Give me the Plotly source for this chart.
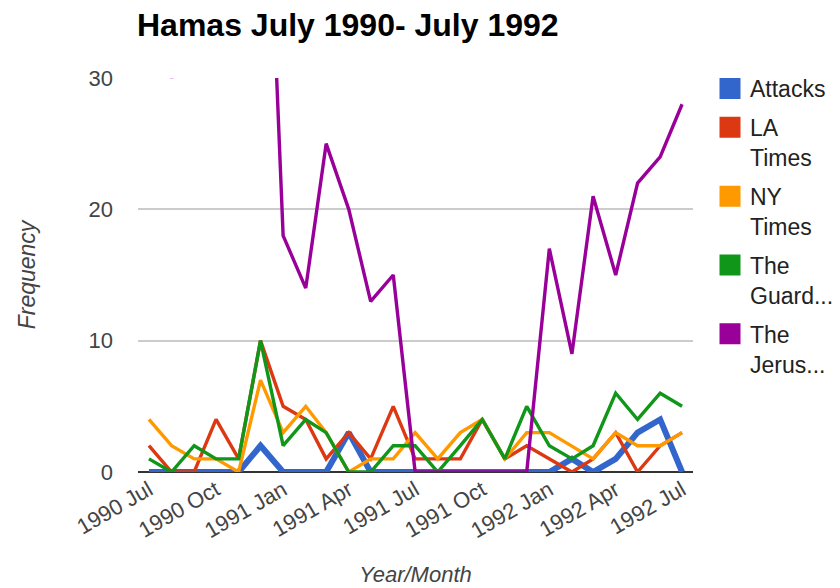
import plotly.graph_objects as go

months = ["1990-07-01", "1990-08-01", "1990-09-01", "1990-10-01", "1990-11-01", "1990-12-01",
          "1991-01-01", "1991-02-01", "1991-03-01", "1991-04-01", "1991-05-01", "1991-06-01",
          "1991-07-01", "1991-08-01", "1991-09-01", "1991-10-01", "1991-11-01", "1991-12-01",
          "1992-01-01", "1992-02-01", "1992-03-01", "1992-04-01", "1992-05-01", "1992-06-01",
          "1992-07-01"]

attacks    = [0, 0, 0, 0, 0, 2, 0, 0, 0, 3, 0, 0, 0, 0, 0, 0, 0, 0, 0, 1, 0, 1, 3, 4, 0]
la_times   = [2, 0, 0, 4, 1, 10, 5, 4, 1, 3, 1, 5, 1, 1, 1, 4, 1, 2, 1, 0, 1, 3, 0, 2, 3]
ny_times   = [4, 2, 1, 1, 0, 7, 3, 5, 3, 0, 1, 1, 3, 1, 3, 4, 1, 3, 3, 2, 1, 3, 2, 2, 3]
guardian   = [1, 0, 2, 1, 1, 10, 2, 4, 3, 0, 0, 2, 2, 0, 2, 4, 1, 5, 2, 1, 2, 6, 4, 6, 5]
jerusalem  = [50, 30, 45, 48, 52, 60, 18, 14, 25, 20, 13, 15, 0, 0, 0, 0, 0, 0, 17, 9, 21, 15, 22, 24, 28]

series_names = ["Attacks", "LA<br>Times", "NY<br>Times", "The<br>Guard...", "The<br>Jerus..."]
series_values = [attacks, la_times, ny_times, guardian, jerusalem]
colors = ["#3366cc", "#dc3912", "#ff9900", "#109618", "#990099"]
widths = [6, 3.4, 3.4, 3.4, 3.4]

FONT = "Liberation Sans, Arial, sans-serif"
W, H = 832, 580  # page body has an 8px margin

fig = go.Figure()
for name, vals, c, w in zip(series_names, series_values, colors, widths):
    fig.add_trace(go.Scatter(x=months, y=vals, mode="lines", name=name,
                             line=dict(color=c, width=w), showlegend=False,
                             hoverinfo="x+y"))
for i, (name, c) in enumerate(zip(series_names, colors)):
    fig.add_trace(go.Scatter(x=[None], y=[None], mode="markers", name=name,
                             legendgroup="g%d" % i,
                             marker=dict(symbol="square", size=16, color=c,
                                         line=dict(color=c, width=5)),
                             showlegend=True))

fig.update_layout(
    width=W, height=H,
    paper_bgcolor="white", plot_bgcolor="white",
    margin=dict(l=130, r=147, t=70, b=116),
    font=dict(family=FONT, size=22, color="#444444"),
    title=dict(text="<b>Hamas July 1990- July 1992</b>", x=129/W, xref="container",
               xanchor="left", y=1-17/H, yref="container", yanchor="middle",
               font=dict(family=FONT, size=32, color="#000000")),
    xaxis=dict(range=["1990-06-16", "1992-07-16"], tickformat="%Y %b", dtick="M3",
               tick0="1990-07-01", tickangle=-30, showgrid=False, zeroline=False,
               showline=False, ticks="", automargin=False,
               tickfont=dict(size=22, color="#444444"),
               title=dict(text="<i>Year/Month</i>", standoff=24,
                          font=dict(size=22, color="#444444"))),
    yaxis=dict(range=[0, 30], tickvals=[0, 10, 20, 30], showgrid=True, gridcolor="#cccccc",
               gridwidth=1.5, zeroline=True, zerolinecolor="#333333", zerolinewidth=1.5,
               showline=False, ticks="", ticklabelstandoff=24, automargin=False,
               tickfont=dict(size=22, color="#444444"),
               title=dict(text="<i>Frequency</i>", standoff=46,
                          font=dict(size=23, color="#444444"))),
    legend=dict(x=702/W, xref="container", y=1-59/H, yref="container",
                xanchor="left", yanchor="top", valign="top", maxheight=420,
                font=dict(family=FONT, size=23, color="#222222"),
                bgcolor="rgba(0,0,0,0)", borderwidth=0, tracegroupgap=6),
    showlegend=True,
)

fig.write_html("out.html")
